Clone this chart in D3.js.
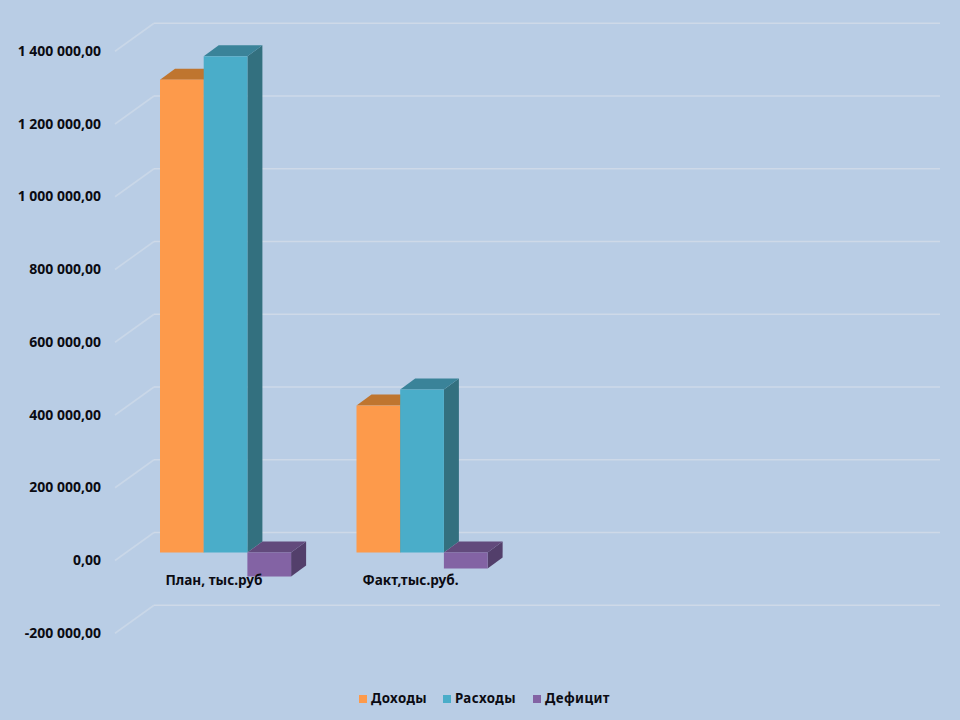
<!DOCTYPE html>
<html><head><meta charset="utf-8">
<script src="https://cdn.jsdelivr.net/npm/d3@7/dist/d3.min.js"></script>
<style>html,body{margin:0;padding:0;background:#b9cde5}svg{display:block}text{font-family:"Noto Sans",sans-serif;font-weight:700;fill:#0b0b12}</style>
</head><body><svg id="c" width="960" height="720"></svg>
<script>
const categories = ["План, тыс.руб", "Факт,тыс.руб."];
const slots = [0, 1, 2, 3];
const seriesNames = ["Доходы", "Расходы", "Дефицит"];
const incomeValues = [1300000, 404000];
const expenseValues = [1364000, 448000];
const deficitValues = [-66000, -44000];
const tickValues = [-200000, 0, 200000, 400000, 600000, 800000, 1000000, 1200000, 1400000];
const tickLabels = ["-200 000,00", "0,00", "200 000,00", "400 000,00", "600 000,00", "800 000,00", "1 000 000,00", "1 200 000,00", "1 400 000,00"];
const frontColors = ["#fd9a4b", "#4aadc9", "#8363a4"];
const topColors = ["#bf752f", "#3a8399", "#624a7c"];
const sideColors = ["#a8662a", "#33707f", "#533f6b"];

const svg = d3.select("#c");
const y = d3.scaleLinear().domain([0, 1400000]).range([552.5, 552.5 - 7 * 72.75]);
const x = d3.scaleBand().domain(slots).range([154, 940]);
const barW = 43.7, dx = 15, dy = 11;
const wallOff = 20, floorDx = 39, floorDy = 28, frontOff = 8;

// Gridlines and floor diagonals
tickValues.forEach((v, i) => {
  const gy = y(v) - wallOff;
  svg.append("path").attr("d", `M${154 - floorDx},${gy + floorDy}L154,${gy}`)
    .attr("fill", "none").attr("stroke", "#c9d7e8").attr("stroke-width", 1.6);
  svg.append("path").attr("d", `M154,${gy}L940,${gy}`)
    .attr("fill", "none").attr("stroke", "#ced9e8").attr("stroke-width", 1.6);
  svg.append("text").attr("x", 101).attr("y", y(v) + frontOff + 0.7).attr("text-anchor", "end")
    .attr("dominant-baseline", "middle").attr("font-size", 14).text(tickLabels[i]);
});

// Bars
const all = [incomeValues, expenseValues, deficitValues];
categories.forEach((c, ci) => {
  const x0 = x(slots[ci]) + 6;
  all.forEach((vals, si) => {
    const v = vals[ci], l = x0 + si * barW, r = l + barW;
    const t = Math.min(y(v), y(0)), b = Math.max(y(v), y(0));
    svg.append("path").attr("d", `M${r},${t}L${r + dx},${t - dy}L${r + dx},${b - dy}L${r},${b}Z`).attr("fill", sideColors[si]);
    svg.append("path").attr("d", `M${l},${t}L${l + dx},${t - dy}L${r + dx},${t - dy}L${r},${t}Z`).attr("fill", topColors[si]);
    svg.append("rect").attr("x", l).attr("y", t).attr("width", barW).attr("height", b - t).attr("fill", frontColors[si]);
  });
});

// Category labels
categories.forEach((c, ci) => {
  svg.append("text").attr("x", x(slots[ci]) + 60).attr("y", 581.5).attr("text-anchor", "middle")
    .attr("dominant-baseline", "middle").attr("font-size", 13.6).text(c);
});

// Legend
const legendX = [359, 443, 533];
seriesNames.forEach((s, i) => {
  svg.append("rect").attr("x", legendX[i]).attr("y", 695).attr("width", 8).attr("height", 8).attr("fill", frontColors[i]);
  svg.append("text").attr("x", legendX[i] + 12).attr("y", 699).attr("dominant-baseline", "middle")
    .attr("font-size", 13.3).attr("letter-spacing", 0.4).text(s);
});
</script></body></html>
